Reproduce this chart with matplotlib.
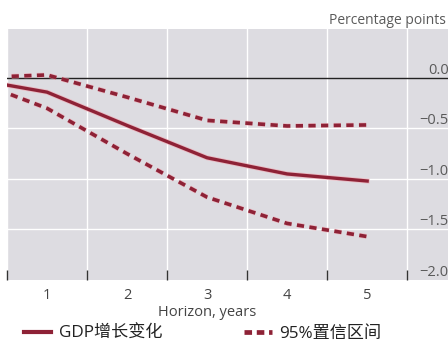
import matplotlib
matplotlib.use("Agg")
import matplotlib.pyplot as plt
import matplotlib.patheffects as pe
from matplotlib.lines import Line2D
from matplotlib.ticker import FixedLocator

plt.rcParams['font.family'] = ['Open Sans', 'Noto Sans CJK SC', 'DejaVu Sans']

# Impulse response of GDP growth with its 95% confidence band
horizon = [0, 1, 2, 3, 4, 5]
gdp_change = [0.0, -0.14, -0.47, -0.79, -0.95, -1.02]
band_upper = [0.0, 0.03, -0.19, -0.42, -0.475, -0.465]
band_lower = [0.0, -0.30, -0.75, -1.18, -1.44, -1.57]

x_ticks = [1, 2, 3, 4, 5]
x_tick_labels = ['1', '2', '3', '4', '5']
y_ticks = [0.0, -0.5, -1.0, -1.5, -2.0]

legend_solid = 'GDP增长变化'
legend_band = '95%置信区间'
x_title = 'Horizon, years'
unit_label = 'Percentage points'

line_color = '#8e2236'
halo = [pe.Stroke(linewidth=3.6, foreground='#f2a5b0', alpha=0.6), pe.Normal()]
text_gray = '#5a5a5a'

fig = plt.figure(figsize=(4.48, 3.47), dpi=100)
ax = fig.add_axes([7 / 448, 1 - 280 / 347, 1 - 7 / 448, (280 - 29) / 347])
ax.set_facecolor('#dddce1')
for s in ax.spines.values():
    s.set_visible(False)

ax.set_xlim(0.5, 6.01)
ax.set_ylim(-2.0, 0.485)

# grid: vertical lines between categories, horizontal at each tick
ax.xaxis.set_major_locator(FixedLocator(x_ticks))
ax.set_xticklabels(x_tick_labels)
ax.xaxis.set_minor_locator(FixedLocator([0.5, 1.5, 2.5, 3.5, 4.5, 5.5]))
ax.tick_params(axis='x', which='major', length=0, pad=6, labelsize=10.5, labelcolor='#444444')
ax.tick_params(axis='x', which='minor', length=7, width=1, direction='in', color='#333333')
ax.grid(which='minor', axis='x', color='white', linewidth=1)
for yv in [-0.5, -1.0, -1.5]:
    ax.axhline(yv, color='white', linewidth=1, zorder=1)
ax.axhline(0.0, color='#222222', linewidth=1, zorder=2)

ax.yaxis.set_major_locator(FixedLocator(y_ticks))
ax.set_yticklabels(['0.0', '\u22120.5', '\u22121.0', '\u22121.5', '\u22122.0'])
ax.tick_params(axis='y', which='both', left=False, right=False, labelleft=False,
               labelright=True, pad=-3, labelsize=10.5, labelcolor=text_gray)
for lab in ax.get_yticklabels():
    lab.set_horizontalalignment('right')
    lab.set_verticalalignment('bottom')

ax.plot(horizon, band_upper, color=line_color, linewidth=2.6, dashes=(2.0, 1.5),
        dash_capstyle='butt', zorder=3, path_effects=halo)
ax.plot(horizon, band_lower, color=line_color, linewidth=2.6, dashes=(2.0, 1.5),
        dash_capstyle='butt', zorder=3, path_effects=halo)
ax.plot(horizon, gdp_change, color=line_color, linewidth=2.4, zorder=4,
        solid_joinstyle='round', path_effects=halo)

ax.set_xlabel(x_title, fontsize=10.5, color='#444444')
ax.xaxis.set_label_coords((3 - 0.5) / 5.51, -0.1)

fig.text(446 / 448, 1 - 20 / 347, unit_label, ha='right', va='center',
         fontsize=10, color=text_gray)

handles = [
    Line2D([], [], color=line_color, linewidth=3.0),
    Line2D([], [], color=line_color, linewidth=3.4, dashes=(1.6, 1.0), dash_capstyle='butt'),
]
fig.legend(handles, [legend_solid, legend_band], loc='center left',
           bbox_to_anchor=(0.053, 1 - 334 / 347), ncol=2, frameon=False,
           fontsize=12.3, handlelength=1.6, handletextpad=0.45, columnspacing=4.8,
           borderaxespad=0, borderpad=0, labelcolor='#222222')

fig.savefig('out.png', dpi=100)
